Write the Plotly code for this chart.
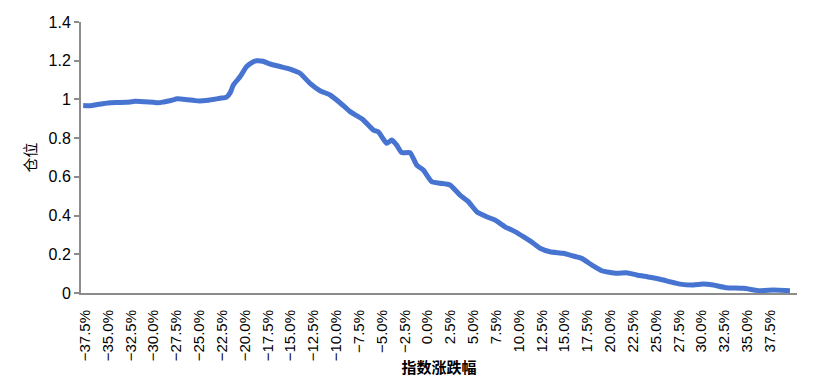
import plotly.graph_objects as go

# index change (%) and position values
change_pct = [-37.7, -37.0, -36.0, -35.0, -34.0, -33.0, -32.0, -31.0, -30.0, -29.5,
              -29.0, -28.0, -27.4, -26.5, -25.5, -25.0, -24.0, -23.5, -22.7, -22.0,
              -21.6, -21.26, -20.53, -19.8, -19.07, -18.7, -18.01, -17.24, -16.15, -15.05,
              -13.96, -12.86, -11.77, -10.67, -9.58, -8.48, -7.75, -7.03, -5.93, -5.39,
              -4.47, -3.92, -3.37, -2.82, -1.92, -1.18, -0.46, 0.46, 1.37, 2.46,
              3.56, 4.47, 5.39, 6.48, 7.39, 8.49, 9.58, 10.49, 11.59, 12.32,
              13.41, 14.87, 15.97, 16.89, 17.98, 19.08, 20.72, 21.81, 22.91, 24.36,
              25.82, 26.55, 27.65, 29.1, 30.2, 31.3, 32.76, 34.58, 36.41, 37.87, 39.69]
position = [0.968, 0.967, 0.975, 0.982, 0.984, 0.985, 0.990, 0.988, 0.985, 0.983,
            0.986, 0.996, 1.003, 1.000, 0.994, 0.992, 0.996, 1.000, 1.006, 1.012,
            1.035, 1.074, 1.117, 1.170, 1.195, 1.200, 1.197, 1.183, 1.170, 1.157,
            1.135, 1.083, 1.045, 1.023, 0.983, 0.937, 0.916, 0.894, 0.842, 0.833,
            0.773, 0.790, 0.764, 0.725, 0.725, 0.661, 0.635, 0.575, 0.567, 0.558,
            0.506, 0.472, 0.420, 0.394, 0.377, 0.342, 0.317, 0.291, 0.257, 0.231,
            0.213, 0.205, 0.191, 0.179, 0.145, 0.115, 0.102, 0.105, 0.093, 0.081,
            0.067, 0.058, 0.046, 0.041, 0.046, 0.041, 0.027, 0.024, 0.012, 0.015, 0.012]

tick_pct = [-37.5 + 2.5 * i for i in range(31)]
x_vals = [p / 100 for p in change_pct]
tick_vals = [p / 100 for p in tick_pct]

FONT = "Liberation Sans, Arial, Noto Sans CJK SC, sans-serif"

fig = go.Figure()
fig.add_trace(go.Scatter(
    x=x_vals, y=position, mode="lines",
    line=dict(color="#4674D0", width=5, shape="spline", smoothing=0.5),
    hoverinfo="x+y", showlegend=False,
))

fig.update_layout(
    width=814, height=384,
    margin=dict(l=73, r=25, t=14, b=99, autoexpand=False),
    paper_bgcolor="white", plot_bgcolor="white",
    font=dict(family=FONT, color="#000000", size=14),
    xaxis=dict(
        automargin=False,
        range=[-0.3794, 0.4046],
        tickvals=tick_vals, tickformat=".1%", tickangle=-90,
        tickfont=dict(size=15, color="#000000"),
        showgrid=False, zeroline=False,
        showline=True, linecolor="#8c8c8c", linewidth=2,
        ticks="", ticklabelstandoff=9,
        title=dict(text="<b>指数涨跌幅</b>", font=dict(size=15, color="#000000"), standoff=2),
    ),
    yaxis=dict(
        automargin=False,
        range=[0, 1.4], dtick=0.2, tickformat="~g",
        tickfont=dict(size=16, color="#000000"),
        showgrid=False, zeroline=False,
        showline=True, linecolor="#8c8c8c", linewidth=2,
        ticks="outside", ticklen=5, tickcolor="#8c8c8c", tickwidth=1.5,
        title=dict(text="仓位", font=dict(size=15, color="#000000"), standoff=8),
    ),
)

fig.write_html("out.html")
